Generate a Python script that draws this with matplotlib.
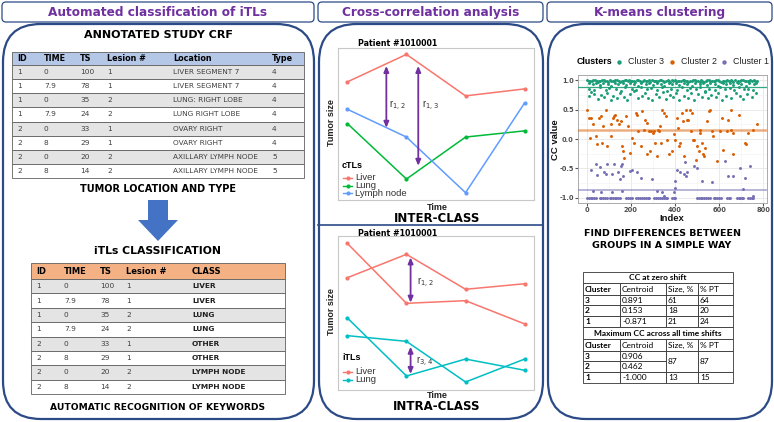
import matplotlib
matplotlib.use('Agg')
import matplotlib.pyplot as plt
from matplotlib.patches import FancyBboxPatch, Rectangle, Polygon

# ---------------- data ----------------
crf_ids = [1, 1, 1, 1, 2, 2, 2, 2]
crf_time = ['0', '7.9', '0', '7.9', '0', '8', '0', '8']
crf_ts = [100, 78, 35, 24, 33, 29, 20, 14]
crf_lesion = [1, 1, 2, 2, 1, 1, 2, 2]
crf_location = ['LIVER SEGMENT 7', 'LIVER SEGMENT 7', 'LUNG: RIGHT LOBE', 'LUNG RIGHT LOBE',
                'OVARY RIGHT', 'OVARY RIGHT', 'AXILLARY LYMPH NODE', 'AXILLARY LYMPH NODE']
crf_type = [4, 4, 4, 4, 4, 4, 5, 5]
itl_class = ['LIVER', 'LIVER', 'LUNG', 'LUNG', 'OTHER', 'OTHER', 'LYMPH NODE', 'LYMPH NODE']
crf_headers = ['ID', 'TIME', 'TS', 'Lesion #', 'Location', 'Type']
itl_headers = ['ID', 'TIME', 'TS', 'Lesion #', 'CLASS']

time_points = [0, 1, 2, 3]
inter_liver = [7.77, 9.58, 6.85, 7.31]
inter_lung = [5.03, 1.38, 4.14, 4.55]
inter_lymph = [5.97, 4.14, 0.48, 6.39]
intra_liver_a = [9.52, 5.63, 5.80, 4.29]
intra_liver_b = [7.29, 8.81, 6.54, 6.90]
intra_lung_a = [4.68, 0.91, 2.01, 1.28]
intra_lung_b = [3.53, 3.16, 0.52, 2.01]

c3_points = [
    (3, 1.00), (15, 0.98), (22, 0.99), (37, 1.00), (49, 0.97), (55, 0.99), (68, 1.00), (81, 0.98), (90, 0.99), (104, 1.00),
    (117, 0.98), (123, 0.99), (136, 1.00), (149, 0.97), (158, 0.99), (171, 1.00), (185, 0.98), (192, 1.00), (204, 0.99), (219, 0.97),
    (227, 1.00), (240, 0.99), (253, 0.98), (261, 1.00), (274, 0.99), (288, 0.97), (297, 1.00), (309, 0.98), (322, 0.99), (330, 1.00),
    (344, 0.98), (357, 0.99), (366, 1.00), (379, 0.97), (391, 0.99), (399, 1.00), (413, 0.98), (426, 0.99), (435, 1.00), (448, 0.98),
    (461, 0.97), (470, 0.99), (483, 1.00), (497, 0.98), (505, 0.99), (518, 1.00), (531, 0.97), (540, 0.99), (553, 1.00), (566, 0.98),
    (575, 0.99), (588, 1.00), (601, 0.98), (610, 0.97), (623, 0.99), (637, 1.00), (645, 0.98), (659, 0.99), (672, 1.00), (681, 0.97),
    (694, 0.99), (707, 1.00), (716, 0.98), (729, 0.99), (742, 1.00), (750, 0.98), (763, 0.99),
    (8, 0.99), (29, 1.00), (45, 0.98), (62, 0.99), (76, 1.00), (97, 0.97), (111, 0.99), (130, 1.00), (144, 0.98), (163, 0.99),
    (176, 1.00), (199, 0.98), (213, 0.99), (234, 1.00), (246, 0.97), (268, 0.99), (282, 1.00), (303, 0.98), (315, 0.99), (338, 1.00),
    (350, 0.97), (371, 0.99), (386, 1.00), (405, 0.98), (419, 0.99), (442, 1.00), (454, 0.98), (477, 0.99), (489, 1.00), (512, 0.97),
    (524, 0.99), (547, 1.00), (559, 0.98), (582, 0.99), (594, 1.00), (617, 0.98), (629, 0.99), (652, 1.00), (664, 0.97), (687, 0.99),
    (699, 1.00), (722, 0.98), (734, 0.99), (757, 1.00), (770, 0.98),
    (9, 0.95), (28, 0.93), (42, 0.96), (61, 0.92), (75, 0.95), (96, 0.94), (110, 0.91), (129, 0.96), (143, 0.93), (164, 0.95),
    (178, 0.92), (198, 0.96), (212, 0.94), (233, 0.91), (247, 0.95), (267, 0.93), (281, 0.96), (302, 0.92), (316, 0.95), (337, 0.94),
    (351, 0.91), (372, 0.96), (385, 0.93), (406, 0.95), (420, 0.92), (441, 0.96), (455, 0.94), (476, 0.91), (490, 0.95), (511, 0.93),
    (525, 0.96), (546, 0.92), (560, 0.95), (581, 0.94), (595, 0.91), (616, 0.96), (630, 0.93), (651, 0.95), (665, 0.92), (686, 0.96),
    (700, 0.94), (721, 0.91), (735, 0.95), (756, 0.93), (769, 0.96),
    (12, 0.86), (34, 0.83), (58, 0.88), (86, 0.84), (101, 0.87), (132, 0.85), (155, 0.82), (175, 0.88), (207, 0.86), (224, 0.83),
    (244, 0.89), (271, 0.85), (292, 0.87), (319, 0.84), (340, 0.88), (363, 0.82), (382, 0.86), (410, 0.84), (432, 0.89), (452, 0.83),
    (467, 0.87), (494, 0.85), (515, 0.88), (537, 0.82), (556, 0.86), (579, 0.84), (604, 0.89), (627, 0.85), (648, 0.87), (669, 0.83),
    (690, 0.88), (712, 0.85), (733, 0.86), (754, 0.84),
    (18, 0.80), (11, 0.73), (33, 0.77), (51, 0.68), (64, 0.75), (79, 0.71), (93, 0.79), (108, 0.66), (120, 0.74), (139, 0.70),
    (151, 0.78), (168, 0.72), (182, 0.67), (196, 0.76), (215, 0.81), (230, 0.69), (251, 0.74), (264, 0.79), (279, 0.70), (295, 0.66),
    (312, 0.77), (328, 0.72), (347, 0.80), (360, 0.68), (376, 0.75), (393, 0.71), (403, 0.79), (418, 0.67), (439, 0.74), (458, 0.70),
    (474, 0.78), (487, 0.66), (502, 0.76), (521, 0.72), (534, 0.80), (549, 0.69), (564, 0.75), (584, 0.71), (597, 0.79), (612, 0.67),
    (633, 0.74), (655, 0.70), (676, 0.78), (695, 0.73), (709, 0.68), (726, 0.76), (747, 0.71), (765, 0.79),
]

c2_points = [
    (3, 0.50), (8, 0.36), (18, 0.35), (26, 0.25), (15, 0.02), (41, 0.05), (48, -0.09), (71, -0.06), (56, 0.36), (63, 0.39),
    (74, 0.22), (86, 0.50), (93, -0.12), (108, 0.05), (111, 0.25), (120, 0.36), (126, 0.41), (123, 0.39), (138, 0.33), (146, 0.25),
    (153, 0.30), (161, -0.12), (165, -0.21), (168, -0.32), (176, 0.39), (186, 0.22), (195, -0.23), (206, 0.02), (213, -0.06), (221, 0.44),
    (229, 0.41), (233, 0.13), (244, -0.12), (248, 0.47), (259, 0.16), (266, 0.33), (271, 0.27), (274, -0.26), (281, 0.13), (286, -0.21),
    (293, 0.13), (298, 0.10), (304, 0.13), (311, -0.06), (316, -0.29), (322, 0.16), (328, 0.13), (331, 0.22), (338, -0.06), (343, 0.50),
    (352, 0.44), (358, 0.39), (364, -0.01), (371, -0.26), (386, -0.21), (394, 0.08), (401, -0.01), (409, 0.36), (412, 0.19), (416, -0.12),
    (424, -0.06), (431, 0.44), (436, 0.30), (442, -0.29), (451, 0.50), (454, 0.32), (461, 0.33), (469, 0.50), (472, 0.13), (477, 0.44),
    (481, -0.01), (487, -0.01), (496, -0.35), (499, -0.12), (507, -0.21), (511, 0.10), (514, 0.16), (521, -0.06), (529, -0.26), (532, -0.29),
    (536, -0.15), (544, 0.30), (552, 0.47), (559, 0.50), (567, 0.13), (574, 0.05), (589, -0.38), (604, 0.13), (611, 0.36), (616, -0.18),
    (634, 0.13), (641, 0.33), (652, 0.50), (656, 0.16), (661, 0.10), (664, -0.26), (692, 0.41), (717, -0.06), (722, -0.08), (731, 0.10),
    (755, 0.16), (770, 0.25),
]

c1_points = [
    (2, -1.0), (10, -1.0), (17, -1.0), (25, -1.0), (34, -1.0), (40, -1.0), (58, -1.0), (66, -1.0), (74, -1.0), (83, -1.0),
    (92, -1.0), (103, -1.0), (110, -1.0), (118, -1.0), (126, -1.0), (134, -1.0), (141, -1.0), (150, -1.0), (178, -1.0), (186, -1.0),
    (195, -1.0), (204, -1.0), (223, -1.0), (231, -1.0), (240, -1.0), (249, -1.0), (258, -1.0), (267, -1.0), (276, -1.0), (284, -1.0),
    (306, -1.0), (314, -1.0), (322, -1.0), (331, -1.0), (340, -1.0), (349, -1.0), (357, -1.0), (363, -1.0), (388, -1.0), (396, -1.0),
    (401, -1.0), (499, -1.0), (507, -1.0), (516, -1.0), (524, -1.0), (533, -1.0), (541, -1.0), (549, -1.0), (557, -1.0), (575, -1.0),
    (583, -1.0), (591, -1.0), (600, -1.0), (609, -1.0), (636, -1.0), (644, -1.0), (650, -1.0), (681, -1.0), (688, -1.0), (696, -1.0),
    (704, -1.0), (710, -1.0), (733, -1.0), (741, -1.0), (748, -1.0), (755, -1.0),
    (21, -0.53), (41, -0.43), (60, -0.48), (45, -0.61), (78, -0.57), (93, -0.43), (86, -0.60), (116, -0.60), (123, -0.43), (141, -0.57),
    (153, -0.46), (161, -0.43), (164, -0.63), (150, -0.68), (198, -0.54), (206, -0.52), (229, -0.57), (244, -0.66), (296, -0.68), (341, -0.91),
    (319, -0.88), (401, -0.71), (409, -0.52), (424, -0.57), (439, -0.60), (454, -0.57), (451, -0.63), (446, -0.39), (484, -0.46), (499, -0.49),
    (521, -0.71), (567, -0.74), (627, -0.37), (641, -0.63), (664, -0.63), (695, -0.49), (709, -0.85), (717, -0.66), (740, -0.46), (755, -0.97),
    (30, -0.88), (63, -0.91), (161, -0.88), (116, -0.90), (401, -0.83), (394, -0.90), (349, -0.97),
]

cluster_centroids = [0.891, 0.153, -0.871]
cluster_names = ['Cluster 3', 'Cluster 2', 'Cluster 1']
cluster_colors = ['#1B9E77', '#D95F02', '#7570B3']

zero_shift_rows = [('3', '0.891', '61', '64'), ('2', '0.153', '18', '20'), ('1', '-0.871', '21', '24')]
max_shift_rows = [('3', '0.906'), ('2', '0.462'), ('1', '-1.000', '13', '15')]
max_shift_merged = ('87', '87')
cluster_table_headers = ['Cluster', 'Centroid', 'Size, %', '% PT']

# ---------------- figure ----------------
W, H = 774, 422
fig = plt.figure(figsize=(W / 100, H / 100), dpi=100)
bg = fig.add_axes([0, 0, 1, 1])
bg.set_xlim(0, W)
bg.set_ylim(H, 0)
bg.axis('off')

PURPLE = '#7030A0'
NAVY = '#2B4A86'
SANS = 'Liberation Sans'


def px_axes(x0, y0, x1, y1):
    return fig.add_axes([x0 / W, 1 - y1 / H, (x1 - x0) / W, (y1 - y0) / H])


# panels and headers
panels = [(2, 314, 'Automated classification of iTLs'),
          (318, 543, 'Cross-correlation analysis'),
          (547, 772, 'K-means clustering')]
for x0, x1, title in panels:
    bg.add_patch(FancyBboxPatch((x0, 2), x1 - x0, 20, boxstyle='round,pad=0,rounding_size=4',
                                fc='white', ec=NAVY, lw=0.9))
    bg.text((x0 + x1) / 2, 12.5, title, color=PURPLE, fontsize=8.7, fontweight='bold',
            ha='center', va='center')
    bg.add_patch(FancyBboxPatch((x0 + 1, 24), x1 - x0 - 1, 395, boxstyle='round,pad=0,rounding_size=38',
                                fc='white', ec=NAVY, lw=1.6))
bg.plot([318, 543], [225, 225], color=NAVY, lw=1.2)

# ---------- panel 1 ----------
bg.text(158, 35, 'ANNOTATED STUDY CRF', fontsize=8, fontweight='bold', ha='center', va='center')
t1_x0, t1_x1 = 12, 304
t1_cols = [17, 44, 80, 107, 173, 272]
bg.add_patch(Rectangle((t1_x0, 52), t1_x1 - t1_x0, 13, fc='#B4C7E7', ec='#606060', lw=0.6))
for cx, h in zip(t1_cols, crf_headers):
    bg.text(cx, 58.7, h, fontsize=5.8, fontweight='bold', ha='left', va='center')
rh = (178 - 65) / 8
for i in range(8):
    y = 65 + i * rh
    bg.add_patch(Rectangle((t1_x0, y), t1_x1 - t1_x0, rh, fc='#E4E4E4' if i % 2 == 0 else 'white',
                           ec='#606060', lw=0.6))
    vals = [crf_ids[i], crf_time[i], crf_ts[i], crf_lesion[i], crf_location[i], crf_type[i]]
    for cx, v in zip(t1_cols, vals):
        bg.text(cx, y + rh / 2, str(v), fontsize=5.3, color='#404040', ha='left', va='center')
bg.text(158, 189, 'TUMOR LOCATION AND TYPE', fontsize=7, fontweight='bold', ha='center', va='center')

bg.add_patch(Polygon([(148, 200), (168, 200), (168, 220), (178, 220), (158, 241), (138, 220), (148, 220)],
                     closed=True, fc='#4472C4', ec='none'))

bg.text(158, 251, 'iTLs CLASSIFICATION', fontsize=7.8, fontweight='bold', ha='center', va='center')
t2_x0, t2_x1 = 31, 285
t2_cols = [36, 64, 100, 126, 192]
bg.add_patch(Rectangle((t2_x0, 263), t2_x1 - t2_x0, 16, fc='#F4B183', ec='#606060', lw=0.6))
for cx, h in zip(t2_cols, itl_headers):
    bg.text(cx, 271.5, h, fontsize=6, fontweight='bold', ha='left', va='center')
rh2 = (394 - 279) / 8
for i in range(8):
    y = 279 + i * rh2
    bg.add_patch(Rectangle((t2_x0, y), t2_x1 - t2_x0, rh2, fc='#E4E4E4' if i % 2 == 0 else 'white',
                           ec='#606060', lw=0.6))
    vals = [crf_ids[i], crf_time[i], crf_ts[i], crf_lesion[i]]
    for cx, v in zip(t2_cols, vals):
        bg.text(cx, y + rh2 / 2, str(v), fontsize=5.3, color='#404040', ha='left', va='center')
    bg.text(t2_cols[4], y + rh2 / 2, itl_class[i], fontsize=5.3, fontweight='bold', color='#202020',
            ha='left', va='center')
bg.text(158, 407, 'AUTOMATIC RECOGNITION OF KEYWORDS', fontsize=6.6, fontweight='bold',
        ha='center', va='center')

# ---------- panel 2 ----------
LIVER_C, LUNG_C, LYMPH_C, TEAL_C = '#F8766D', '#00BA38', '#619CFF', '#00BFC4'


def chart(y0, y1):
    ax = px_axes(338, y0, 534, y1)
    ax.set_facecolor('none')
    ax.set_xlim(-0.158, 3.158)
    ax.set_ylim(0, 10)
    ax.set_xticks([])
    ax.set_yticks([])
    for s in ax.spines.values():
        s.set_color('#C8C8C8')
        s.set_linewidth(0.8)
    return ax


def r_arrow(ax, x, ya, yb):
    ax.annotate('', xy=(x, yb), xytext=(x, ya),
                arrowprops=dict(arrowstyle='<|-|>,head_length=0.35,head_width=0.15', color=PURPLE, lw=1.3,
                                shrinkA=0, shrinkB=0))


ax1 = chart(48, 200)
ax1.plot(time_points, inter_liver, color=LIVER_C, lw=1.1, marker='o', ms=2)
ax1.plot(time_points, inter_lung, color=LUNG_C, lw=1.1, marker='o', ms=2)
ax1.plot(time_points, inter_lymph, color=LYMPH_C, lw=1.1, marker='o', ms=2)
r_arrow(ax1, 0.66, 8.82, 4.75)
r_arrow(ax1, 1.20, 8.82, 2.25)
ax1.text(0.71, 6.2, r'r$_{1,2}$', fontsize=7, color='#333333', family=SANS, va='center')
ax1.text(1.26, 6.2, r'r$_{1,3}$', fontsize=7, color='#333333', family=SANS, va='center')

ax2 = chart(236, 390)
ax2.plot(time_points, intra_liver_a, color=LIVER_C, lw=1.1, marker='o', ms=2)
ax2.plot(time_points, intra_liver_b, color=LIVER_C, lw=1.1, marker='o', ms=2)
ax2.plot(time_points, intra_lung_a, color=TEAL_C, lw=1.1, marker='o', ms=2)
ax2.plot(time_points, intra_lung_b, color=TEAL_C, lw=1.1, marker='o', ms=2)
r_arrow(ax2, 1.07, 8.61, 5.67)
r_arrow(ax2, 1.07, 2.81, 1.04)
ax2.text(1.18, 6.95, r'r$_{1,2}$', fontsize=7, color='#333333', family=SANS, va='center')
ax2.text(1.16, 1.85, r'r$_{3,4}$', fontsize=7, color='#333333', family=SANS, va='center')

for title_y, lab_y, time_y, cls_y, cls in [(43, 123, 207, 218, 'INTER-CLASS'),
                                           (233, 312, 395, 406, 'INTRA-CLASS')]:
    bg.text(398, title_y, 'Patient #1010001', fontsize=5.7, fontweight='bold', ha='center', va='center')
    bg.text(332, lab_y, 'Tumor size', fontsize=6.5, fontweight='bold', family=SANS, rotation=90,
            ha='center', va='center', color='#222222')
    bg.text(437, time_y, 'Time', fontsize=6.5, fontweight='bold', family=SANS, ha='center', va='center',
            color='#222222')
    bg.text(437, cls_y, cls, fontsize=8.5, fontweight='bold', ha='center', va='center')


def chart_legend(title, y_title, items):
    bg.text(342, y_title, title, fontsize=6.5, fontweight='bold', family=SANS, ha='left', va='center')
    for lab, col, yy in items:
        bg.plot([343, 352], [yy, yy], color=col, lw=1.0)
        bg.plot([347.5], [yy], 'o', color=col, ms=2)
        bg.text(355, yy, lab, fontsize=6.8, family=SANS, ha='left', va='center', color='#333333')


chart_legend('cTLs', 166, [('Liver', LIVER_C, 178), ('Lung', LUNG_C, 185.5), ('Lymph node', LYMPH_C, 193)])
chart_legend('iTLs', 358, [('Liver', LIVER_C, 372), ('Lung', TEAL_C, 380)])

# ---------- panel 3 ----------
ax3 = px_axes(578, 75, 767, 203)
ax3.set_facecolor('white')
ax3.set_xlim(-40, 817)
ax3.set_ylim(-1.09, 1.09)
ax3.set_xticks([0, 200, 400, 600, 800])
ax3.set_xticks([100, 300, 500, 700], minor=True)
ax3.set_yticks([-1, -0.5, 0, 0.5, 1])
ax3.set_yticks([-0.75, -0.25, 0.25, 0.75], minor=True)
ax3.set_yticklabels(['-1.0', '-0.5', '0.0', '0.5', '1.0'])
ax3.grid(True, which='major', color='#E6E6E6', lw=0.6)
ax3.grid(True, which='minor', color='#F2F2F2', lw=0.4)
ax3.set_axisbelow(True)
ax3.tick_params(which='major', labelsize=4.8, labelcolor='#4D4D4D', length=2, color='#555555', pad=1)
ax3.tick_params(which='minor', length=0)
for lab in ax3.get_xticklabels() + ax3.get_yticklabels():
    lab.set_fontweight('bold')
for s in ax3.spines.values():
    s.set_color('#AAAAAA')
    s.set_linewidth(0.7)
for pts, col in zip([c3_points, c2_points, c1_points], cluster_colors):
    ax3.scatter([p[0] for p in pts], [p[1] for p in pts], s=4.5, color=col, lw=0, zorder=3)
for cy, col, lw, al in zip(cluster_centroids, cluster_colors, [0.9, 1.8, 1.2], [0.9, 0.5, 0.6]):
    ax3.axhline(cy, color=col, lw=lw, alpha=al, zorder=4)
bg.text(556, 140, 'CC value', fontsize=6.8, fontweight='bold', family=SANS, rotation=90,
        ha='center', va='center', color='#111111')
bg.text(672, 218.5, 'Index', fontsize=6.8, fontweight='bold', family=SANS, ha='center', va='center',
        color='#111111')

bg.text(577, 62, 'Clusters', fontsize=6.4, fontweight='bold', family=SANS, ha='left', va='center')
for name, col, dx, tx in zip(cluster_names, cluster_colors, [619, 672, 724], [628, 681, 733]):
    bg.scatter([dx], [62], s=10, color=col, lw=0)
    bg.text(tx, 62, name, fontsize=6.4, family=SANS, ha='left', va='center', color='#222222')

bg.text(662, 233, 'FIND DIFFERENCES BETWEEN', fontsize=6.8, fontweight='bold', ha='center', va='center')
bg.text(662, 246, 'GROUPS IN A SIMPLE WAY', fontsize=6.8, fontweight='bold', ha='center', va='center')

# cluster table
TF = 'Lato'
tc = [583, 620, 666, 698, 733]
ry = [272, 283, 295, 305, 316, 327, 339, 351, 361, 372, 383]
EC = '#333333'


def cell(x0, x1, y0, y1, txt, bold=False, center=False):
    bg.add_patch(Rectangle((x0, y0), x1 - x0, y1 - y0, fc='white', ec=EC, lw=0.6))
    if center:
        bg.text((x0 + x1) / 2, (y0 + y1) / 2 + 0.3, txt, fontsize=6, family=TF,
                fontweight='bold' if bold else 'normal', ha='center', va='center')
    else:
        bg.text(x0 + 2, (y0 + y1) / 2 + 0.3, txt, fontsize=6, family=TF,
                fontweight='bold' if bold else 'normal', ha='left', va='center')


cell(tc[0], tc[4], ry[0], ry[1], 'CC at zero shift', bold=True, center=True)
for j, h in enumerate(cluster_table_headers):
    cell(tc[j], tc[j + 1], ry[1], ry[2], h, bold=(j == 0))
for i, row in enumerate(zero_shift_rows):
    for j, v in enumerate(row):
        cell(tc[j], tc[j + 1], ry[2 + i], ry[3 + i], v, bold=(j == 0))
cell(tc[0], tc[4], ry[5], ry[6], 'Maximum CC across all time shifts', bold=True, center=True)
for j, h in enumerate(cluster_table_headers):
    cell(tc[j], tc[j + 1], ry[6], ry[7], h, bold=(j == 0))
for i, row in enumerate(max_shift_rows):
    for j, v in enumerate(row):
        cell(tc[j], tc[j + 1], ry[7 + i], ry[8 + i], v, bold=(j == 0))
cell(tc[2], tc[3], ry[7], ry[9], max_shift_merged[0])
cell(tc[3], tc[4], ry[7], ry[9], max_shift_merged[1])

fig.savefig('out.png', dpi=100)
